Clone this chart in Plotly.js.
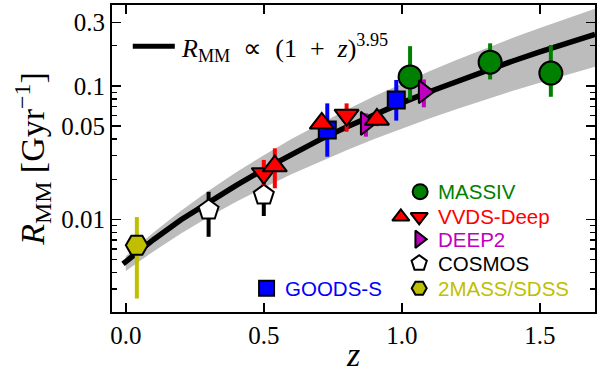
<!DOCTYPE html>
<html><head><meta charset="utf-8">
<script src="https://cdn.plot.ly/plotly-3.0.1.min.js"></script>
<style>html,body{margin:0;padding:0;background:#fff}#chart{width:600px;height:373px}</style>
</head><body><div id="chart"></div>
<script>
// ---- fit curve R_MM ∝ (1+z)^3.95 ----
const fitZ = [-0.01, 0.0, 0.1, 0.2, 0.3, 0.4, 0.5, 0.6, 0.7, 0.8, 0.9, 1.0, 1.1, 1.2, 1.3, 1.4, 1.5, 1.6, 1.7];
const fitR = [0.00464, 0.00483, 0.00704, 0.00993, 0.0134, 0.0180, 0.0237, 0.0308, 0.0393, 0.0492, 0.0610, 0.0747, 0.0905, 0.1088, 0.1296, 0.1534, 0.1802, 0.2104, 0.2443];
// ---- uncertainty band ----
const bandZ  = [0.0, 0.1, 0.2, 0.3, 0.4, 0.5, 0.6, 0.7, 0.8, 0.9, 1.0, 1.1, 1.2, 1.3, 1.4, 1.5, 1.6, 1.7];
const bandHi = [0.00530, 0.00798, 0.01161, 0.01638, 0.02252, 0.03030, 0.04000, 0.05190, 0.06637, 0.08374, 0.1044, 0.1288, 0.1573, 0.1904, 0.2287, 0.2725, 0.3226, 0.3794];
const bandLo = [0.00410, 0.00575, 0.00783, 0.01041, 0.01354, 0.01729, 0.02175, 0.02697, 0.03304, 0.04003, 0.04802, 0.05711, 0.06736, 0.07887, 0.09174, 0.1060, 0.1219, 0.1394];

// ---- surveys: z, R, upper / lower error bound ----
const cosmosZ = [0.30, 0.50];
const cosmosR = [0.01175, 0.0152];
const cosmosHi = [0.0161, 0.0200];
const cosmosLo = [0.0074, 0.0106];

const sdssZ = [0.04];
const sdssR = [0.0064];
const sdssHi = [0.0104];
const sdssLo = [0.00255];

const massivZ = [1.03, 1.32, 1.54];
const massivR = [0.117, 0.151, 0.125];
const massivHi = [0.199, 0.209, 0.203];
const massivLo = [0.079, 0.112, 0.083];

const goodsZ = [0.73, 0.98];
const goodsR = [0.0468, 0.0785];
const goodsHi = [0.0741, 0.111];
const goodsLo = [0.0295, 0.055];

const deep2Z = [0.87, 1.08];
const deep2R = [0.0525, 0.0906];
const deep2Hi = [0.0624, 0.112];
const deep2Lo = [0.0417, 0.0692];

const vvdsUpZ = [0.54, 0.71, 0.91];
const vvdsUpR = [0.0251, 0.0525, 0.0562];
const vvdsUpHi = [0.0341, 0.058, 0.062];
const vvdsUpLo = [0.0171, 0.047, 0.050];

const vvdsDnZ = [0.50, 0.80];
const vvdsDnR = [0.0221, 0.0606];
const vvdsDnHi = [0.0279, 0.0741];
const vvdsDnLo = [0.0180, 0.0454];

// ---- ticks ----
const xTickVals = [0, 0.5, 1.0, 1.5];
const xTickText = ['0.0', '0.5', '1.0', '1.5'];
const yTickVals = [0.01, 0.05, 0.1, 0.3];
const yTickText = ['0.01', '0.05', '0.1', '0.3'];
const yMinorVals = [0.003, 0.004, 0.005, 0.006, 0.007, 0.008, 0.009, 0.02, 0.03, 0.04, 0.06, 0.07, 0.08, 0.09, 0.2];

const labels = ['MASSIV', 'VVDS-Deep', 'DEEP2', 'COSMOS', '2MASS/SDSS', 'GOODS-S'];
const fitLabel = '<i>R</i><sub>MM</sub>\u2002∝\u2002(1\u2002+\u2002<i>z</i>)<sup>3.95</sup>';

const GREEN = '#008000', RED = '#ff0000', MAG = '#bf00bf', BLUE = '#0000ff', OLIVE = '#bfbf00';

function pts(z, r, hi, lo, symbol, fill, barColor, size) {
  return {
    x: z, y: r, type: 'scatter', mode: 'markers', showlegend: false, cliponaxis: true,
    marker: {symbol: symbol, size: size, color: fill, line: {color: '#000', width: 2}},
    error_y: {type: 'data', symmetric: false,
      array: hi.map((h, i) => h - r[i]), arrayminus: r.map((v, i) => v - lo[i]),
      color: barColor, thickness: 4, width: 0}
  };
}

const traces = [
  {x: bandZ.concat(bandZ.slice().reverse()), y: bandHi.concat(bandLo.slice().reverse()),
   type: 'scatter', mode: 'lines', fill: 'toself', fillcolor: '#bcbcbc', line: {width: 0}, showlegend: false},
  {x: fitZ, y: fitR, type: 'scatter', mode: 'lines', line: {color: '#000', width: 5.5}, showlegend: false},
  pts(cosmosZ, cosmosR, cosmosHi, cosmosLo, 'pentagon', '#ffffff', '#000000', 21),
  pts(sdssZ, sdssR, sdssHi, sdssLo, 'hexagon2', OLIVE, OLIVE, 22),
  pts(massivZ, massivR, massivHi, massivLo, 'circle', GREEN, GREEN, 23),
  pts(goodsZ, goodsR, goodsHi, goodsLo, 'square', BLUE, BLUE, 17),
  pts(deep2Z, deep2R, deep2Hi, deep2Lo, 'triangle-right', MAG, MAG, 20),
  pts(vvdsDnZ, vvdsDnR, vvdsDnHi, vvdsDnLo, 'triangle-down', RED, RED, 21),
  pts(vvdsUpZ, vvdsUpR, vvdsUpHi, vvdsUpLo, 'triangle-up', RED, RED, 21)
];

// ---- legend (drawn on an overlay axis in plot-fraction units) ----
const legendRows = [
  {label: labels[0], color: GREEN, marks: [{s: 'circle', x: 0.638, c: GREEN, size: 15}], y: 0.392, tx: 0.670},
  {label: labels[1], color: RED, marks: [{s: 'triangle-up', x: 0.598, c: RED, size: 15}, {s: 'triangle-down', x: 0.636, c: RED, size: 15}], y: 0.310, tx: 0.670},
  {label: labels[2], color: MAG, marks: [{s: 'triangle-right', x: 0.636, c: MAG, size: 15}], y: 0.237, tx: 0.670},
  {label: labels[3], color: '#000000', marks: [{s: 'pentagon', x: 0.636, c: '#ffffff', size: 16}], y: 0.159, tx: 0.670},
  {label: labels[4], color: OLIVE, marks: [{s: 'hexagon2', x: 0.636, c: OLIVE, size: 15}], y: 0.077, tx: 0.670},
  {label: labels[5], color: BLUE, marks: [{s: 'square', x: 0.320, c: BLUE, size: 15}], y: 0.077, tx: 0.354}
];
const annotations = [];
legendRows.forEach(row => {
  row.marks.forEach(m => traces.push({
    x: [m.x], y: [row.y], xaxis: 'x2', yaxis: 'y2', type: 'scatter', mode: 'markers', showlegend: false,
    marker: {symbol: m.s, size: m.size, color: m.c, line: {color: '#000', width: 2}}
  }));
  annotations.push({xref: 'paper', yref: 'paper', x: row.tx, y: row.y, xanchor: 'left', yanchor: 'middle',
    text: row.label, showarrow: false, font: {family: 'Liberation Sans, Arial, sans-serif', size: 20.5, color: row.color}});
});
traces.push({x: [0.043, 0.130], y: [0.866, 0.866], xaxis: 'x2', yaxis: 'y2', type: 'scatter', mode: 'lines',
  line: {color: '#000', width: 5}, showlegend: false});
annotations.push({xref: 'paper', yref: 'paper', x: 0.138, y: 0.860, xanchor: 'left', yanchor: 'middle',
  text: fitLabel, showarrow: false, font: {family: 'Liberation Serif, serif', size: 26, color: '#000'}});

const axisCommon = {showgrid: false, zeroline: false, showline: true, linecolor: '#000', linewidth: 2,
  mirror: 'allticks', ticks: 'inside', tickcolor: '#000', tickwidth: 1.5, ticklen: 9,
  tickfont: {family: 'Liberation Serif, serif', size: 25, color: '#000'}};

const layout = {
  width: 600, height: 373, margin: {l: 112, r: 5, t: 5, b: 61},
  paper_bgcolor: '#fff', plot_bgcolor: '#fff', showlegend: false,
  xaxis: Object.assign({}, axisCommon, {range: [-0.05, 1.7], tickmode: 'array', tickvals: xTickVals, ticktext: xTickText,
    title: {text: '<i>z</i>', font: {family: 'Liberation Serif, serif', size: 34, color: '#000'}, standoff: 2}}),
  yaxis: Object.assign({}, axisCommon, {type: 'log', range: [Math.log10(0.00202), Math.log10(0.405)],
    tickmode: 'array', tickvals: yTickVals, ticktext: yTickText,
    minor: {tickmode: 'array', tickvals: yMinorVals, ticks: 'inside', ticklen: 5, tickwidth: 1.2, tickcolor: '#000', showgrid: false},
    title: {text: '<i>R</i><sub>MM</sub> [Gyr<sup>−1</sup>]', font: {family: 'Liberation Serif, serif', size: 34, color: '#000'}, standoff: 6}}),
  xaxis2: {overlaying: 'x', range: [0, 1], visible: false, fixedrange: true},
  yaxis2: {overlaying: 'y', range: [0, 1], visible: false, fixedrange: true},
  annotations: annotations
};

Plotly.newPlot('chart', traces, layout, {staticPlot: true, displayModeBar: false});
</script>
</body></html>
